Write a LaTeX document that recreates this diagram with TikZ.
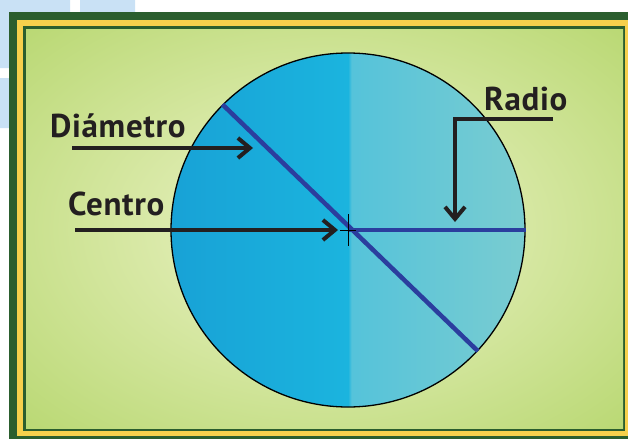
\documentclass[tikz,border=0pt]{standalone}
\usepackage{fontspec}
\setmainfont{PT Sans}[LetterSpace=2]
\usetikzlibrary{arrows.meta}
\definecolor{lblue}{HTML}{C9E1F5}
\definecolor{fgreen}{HTML}{2B5E2E}
\definecolor{fyellow}{HTML}{F6D04C}
\definecolor{bgA}{HTML}{DDEBAE}
\definecolor{bgB}{HTML}{A4CD50}
\definecolor{dA}{HTML}{1590CE}
\definecolor{dB}{HTML}{1BB4DE}
\definecolor{dC}{HTML}{55C3DA}
\definecolor{dD}{HTML}{90D2CB}
\definecolor{bline}{HTML}{2B3E9E}
\definecolor{ink}{HTML}{231F20}
\pgfdeclareradialshading{bgshade}{\pgfpoint{0bp}{0bp}}{color(0bp)=(bgA); color(12bp)=(bgA); color(50bp)=(bgB); color(100bp)=(bgB)}
\pgfdeclarehorizontalshading{disk}{100bp}{color(0bp)=(dA); color(50bp)=(dB); color(50.5bp)=(dC); color(90bp)=(dD); color(100bp)=(dD)}
\begin{document}
\begin{tikzpicture}[x=1pt,y=-1pt,
  lbl/.style={text=ink, font=\bfseries\fontsize{33}{36}\selectfont, inner sep=0pt, anchor=base west},
  arr/.style={draw=ink, line width=4pt, -{Straight Barb[length=12pt,width=20pt]}},
  bl/.style={draw=bline, line width=4.5pt}]
\useasboundingbox (0,0) rectangle (628,439);
\fill[white] (0,0) rectangle (628,439);
\fill[lblue] (0,0) rectangle (70,12) (80,0) rectangle (135,12) (0,0) rectangle (9,68) (0,78) rectangle (9,128);
\fill[fgreen] (9,12) rectangle (628,439);
\fill[fyellow] (17,20) rectangle (628,436);
\fill[fgreen] (23,26) rectangle (625,431);
\shade[shading=bgshade] (26,29) rectangle (623,428);
% disk
\node[circle, draw=black, line width=1.3pt, minimum size=354pt, inner sep=0pt, shade, shading=disk] (circ) at (348,230) {};
\draw[bl] (circ.135) -- (circ.-43);
\draw[bl] (circ.center) -- (circ.0);
\draw[black, line width=0.8pt] ([yshift=16pt]circ.center) -- ([yshift=-16pt]circ.center);
\draw[black, line width=0.8pt] ([xshift=-8pt]circ.center) -- ([xshift=8pt]circ.center);
% labels
\node[lbl] (tdiam) at (50,137) {Diámetro};
\node[lbl] (tcen) at (68,215) {Centro};
\node[lbl] (trad) at (484,110) {Radio};
% arrows
\coordinate (ds) at (72,148);
\coordinate (de) at (253,148);
\coordinate (cs) at (75,230);
\coordinate (ce) at (338,230);
\coordinate (rs) at (553,119);
\coordinate (re) at (455,222);
\draw[arr] (ds) -- (de);
\draw[arr] (cs) -- (ce);
\draw[arr] (rs) -| (re);
\end{tikzpicture}
\end{document}
